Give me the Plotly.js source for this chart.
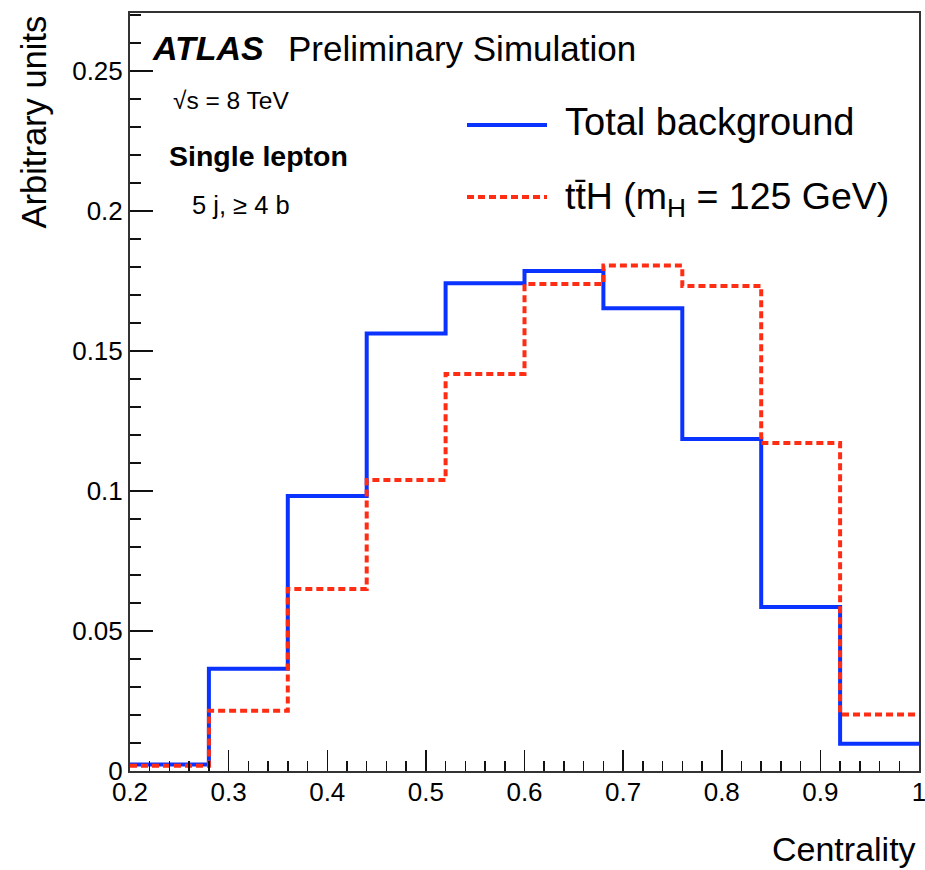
<!DOCTYPE html>
<html>
<head>
<meta charset="utf-8">
<script src="https://cdn.plot.ly/plotly-3.0.1.min.js"></script>
<style>
  html, body { margin: 0; padding: 0; background: #ffffff; }
  #chart { width: 925px; height: 870px; }
</style>
</head>
<body>
<div id="chart"></div>
<script>
// Bin edges of the Centrality histogram
const binEdges = [0.2, 0.28, 0.36, 0.44, 0.52, 0.60, 0.68, 0.76, 0.84, 0.92, 1.0];
// Normalised contents per bin
const totalBackground = [0.0023, 0.0365, 0.0982, 0.1562, 0.1742, 0.1786, 0.1653, 0.1186, 0.0586, 0.0097];
const ttH = [0.0019, 0.0215, 0.0650, 0.1039, 0.1418, 0.1739, 0.1805, 0.1732, 0.1171, 0.0202];

const seriesNames = ['Total background', 't\u0074\u0304H (m<sub>H</sub> = 125 GeV)'];

const FONT = 'Liberation Sans, Arial, Helvetica, sans-serif';
const BLUE = '#0a33ff';
const RED = '#ff2d14';

function stepY(vals) { return vals.concat([vals[vals.length - 1]]); }

const traces = [
  {
    x: binEdges, y: stepY(totalBackground), type: 'scatter', mode: 'lines',
    line: { shape: 'hv', color: BLUE, width: 4 }, name: seriesNames[0]
  },
  {
    x: binEdges, y: stepY(ttH), type: 'scatter', mode: 'lines',
    line: { shape: 'hv', color: RED, width: 4, dash: '7px,4px' }, name: seriesNames[1]
  }
];

// plot-area pixel helpers (for text placement only)
const L = 130, R = 919, T = 13, B = 771;
const px = x => (x - L) / (R - L);
const py = y => (B - y) / (B - T);

const layout = {
  width: 925, height: 870, showlegend: false,
  margin: { l: L, r: 925 - R, t: T, b: 870 - B, pad: 0 },
  font: { family: FONT, color: '#000000' },
  xaxis: {
    range: [0.2, 1.0], tickmode: 'linear', tick0: 0.2, dtick: 0.1,
    ticks: 'inside', ticklen: 21, tickwidth: 1.5, tickcolor: '#111',
    minor: { dtick: 0.02, tick0: 0.2, ticks: 'inside', ticklen: 10, tickwidth: 1.5, tickcolor: '#111' },
    showline: true, linecolor: '#333', linewidth: 2, mirror: true,
    showgrid: false, zeroline: false,
    tickfont: { family: FONT, size: 26, color: '#000' },
    ticklabelstandoff: -3, ticklabeloverflow: 'allow'
  },
  yaxis: {
    range: [0, 0.2707], tickmode: 'linear', tick0: 0, dtick: 0.05,
    ticks: 'inside', ticklen: 23, tickwidth: 1.5, tickcolor: '#111',
    minor: { dtick: 0.01, tick0: 0, ticks: 'inside', ticklen: 11, tickwidth: 1.5, tickcolor: '#111' },
    showline: true, linecolor: '#333', linewidth: 2, mirror: true,
    showgrid: false, zeroline: false,
    tickfont: { family: FONT, size: 26, color: '#000' }
  },
  shapes: [
    { type: 'line', xref: 'paper', yref: 'paper', x0: px(467), x1: px(547), y0: py(125), y1: py(125),
      line: { color: BLUE, width: 4 } },
    { type: 'line', xref: 'paper', yref: 'paper', x0: px(467), x1: px(547), y0: py(197), y1: py(197),
      line: { color: RED, width: 4, dash: '7px,4px' } }
  ],
  annotations: [
    { xref: 'paper', yref: 'paper', x: px(150), y: py(48), xanchor: 'left', yanchor: 'middle',
      text: '<b><i>ATLAS</i></b>', showarrow: false, font: { family: FONT, size: 34 } },
    { xref: 'paper', yref: 'paper', x: px(286), y: py(48), xanchor: 'left', yanchor: 'middle',
      text: 'Preliminary Simulation', showarrow: false, font: { family: FONT, size: 35 } },
    { xref: 'paper', yref: 'paper', x: px(171), y: py(100), xanchor: 'left', yanchor: 'middle',
      text: '\u221As = 8 TeV', showarrow: false, font: { family: FONT, size: 24.5 } },
    { xref: 'paper', yref: 'paper', x: px(167), y: py(156), xanchor: 'left', yanchor: 'middle',
      text: '<b>Single lepton</b>', showarrow: false, font: { family: FONT, size: 28.5 } },
    { xref: 'paper', yref: 'paper', x: px(190), y: py(205), xanchor: 'left', yanchor: 'middle',
      text: '5 j, \u2265 4 b', showarrow: false, font: { family: FONT, size: 25.5 } },
    { xref: 'paper', yref: 'paper', x: px(563), y: py(122), xanchor: 'left', yanchor: 'middle',
      text: seriesNames[0], showarrow: false, font: { family: FONT, size: 38 } },
    { xref: 'paper', yref: 'paper', x: px(563), y: py(199), xanchor: 'left', yanchor: 'middle',
      text: seriesNames[1], showarrow: false, font: { family: FONT, size: 37.5 } },
    { xref: 'paper', yref: 'paper', x: px(918), y: py(870), xanchor: 'right', yanchor: 'bottom',
      text: 'Centrality', showarrow: false, font: { family: FONT, size: 34 } },
    { xref: 'paper', yref: 'paper', x: px(34), y: py(14), xanchor: 'center', yanchor: 'top',
      text: 'Arbitrary units', textangle: -90, showarrow: false, font: { family: FONT, size: 34.5 } }
  ]
};

Plotly.newPlot('chart', traces, layout, { staticPlot: true });
</script>
</body>
</html>
